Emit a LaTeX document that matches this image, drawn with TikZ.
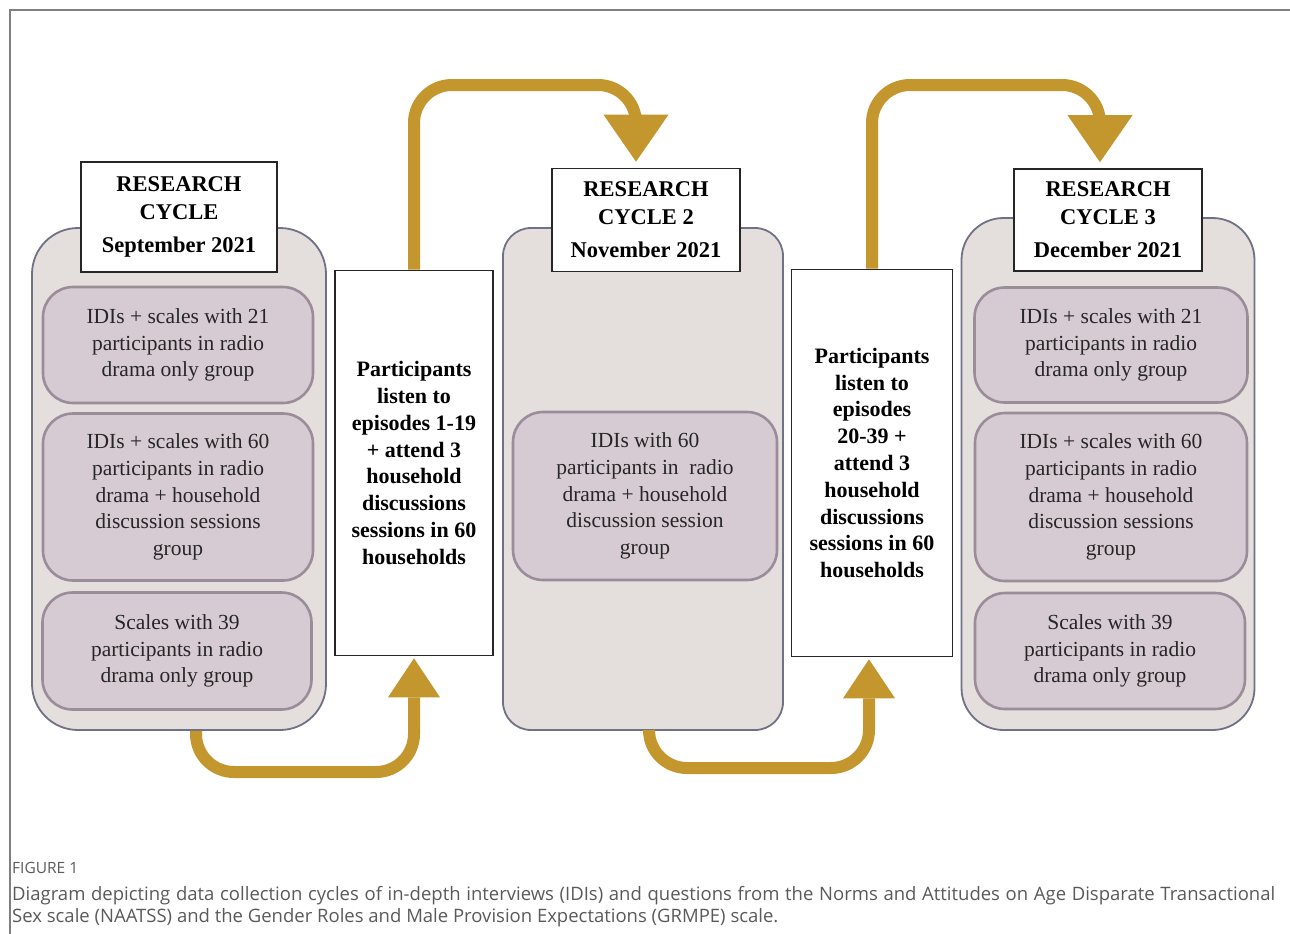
\documentclass[tikz,border=0pt]{standalone}
\usepackage{fontspec}
\setmainfont{Liberation Serif}
\newfontfamily\capfont{Open Sans}
\usetikzlibrary{arrows.meta}

\definecolor{gold}{RGB}{196,150,46}
\definecolor{panelfill}{RGB}{228,223,221}
\definecolor{paneldraw}{RGB}{112,112,134}
\definecolor{groupfill}{RGB}{214,203,211}
\definecolor{groupdraw}{RGB}{155,140,154}
\definecolor{capgray}{RGB}{90,90,90}

\begin{document}
\begin{tikzpicture}[x=1pt,y=-1pt,
    panel/.style={draw=paneldraw, line width=1.8pt, fill=panelfill, inner sep=0pt},
    group/.style={draw=groupdraw, line width=2.6pt, fill=groupfill, rounded corners=30pt,
        align=center, text=black!85, inner sep=0pt, font=\fontsize{21.5}{26.8}\selectfont},
    cyclehead/.style={draw=black!85, line width=1.6pt, fill=white, align=center, inner sep=0pt,
        font=\bfseries\fontsize{22.5}{28}\selectfont},
    listenbox/.style={draw=black!85, line width=1.6pt, fill=white, align=center, inner sep=0pt,
        font=\bfseries\fontsize{22}{26.8}\selectfont},
    flow/.style={draw=gold, line width=12pt, rounded corners=38pt},
    bighead/.style={-{Triangle[width=65pt,length=47pt,line width=0pt]}},
    smallhead/.style={-{Triangle[width=52pt,length=39pt,line width=0pt]}}]
    \useasboundingbox (0,0) rectangle (1290,934);
    % frame
    \draw[gray, line width=1.2pt] (10,934) -- (10,10) -- (1290,10);

    % research cycle 1
    \node[panel, rounded corners=46pt, minimum width=294pt, minimum height=502pt] (cyc1) at (179,479) {};
    \node[group, minimum width=270pt, minimum height=116pt] (cyc1a) at (178,345)
        {IDIs + scales with 21\\participants in radio\\drama only group};
    \node[group, minimum width=270pt, minimum height=167pt] (cyc1b) at (178,497)
        {IDIs + scales with 60\\participants in radio\\drama + household\\discussion sessions\\group};
    \node[group, minimum width=269pt, minimum height=117pt] (cyc1c) at (177,651)
        {Scales with 39\\participants in radio\\drama only group};
    \node[cyclehead, minimum width=196pt, minimum height=110pt] (head1) at (179,217)
        {RESEARCH\\CYCLE\\[5pt]September 2021};

    % listening period 1
    \node[listenbox, minimum width=158pt, minimum height=385pt] (listen1) at (414,463)
        {Participants\\listen to\\episodes 1-19\\+ attend 3\\household\\discussions\\sessions in 60\\households};

    % research cycle 2
    \node[panel, rounded corners=28pt, minimum width=280pt, minimum height=502pt] (cyc2) at (643,479) {};
    \node[group, minimum width=264pt, minimum height=168pt] (cyc2a) at (645,496)
        {IDIs with 60\\participants in~ radio\\drama + household\\discussion session\\group};
    \node[cyclehead, minimum width=188pt, minimum height=103pt] (head2) at (646,220)
        {RESEARCH\\CYCLE 2\\[5pt]November 2021};

    % listening period 2
    \node[listenbox, minimum width=161pt, minimum height=387pt] (listen2) at (872,463)
        {Participants\\listen to\\episodes\\20-39 +\\attend 3\\household\\discussions\\sessions in 60\\households};

    % research cycle 3
    \node[panel, rounded corners=42pt, minimum width=293pt, minimum height=512pt] (cyc3) at (1108,474) {};
    \node[group, minimum width=273pt, minimum height=115pt] (cyc3a) at (1111,345)
        {IDIs + scales with 21\\participants in radio\\drama only group};
    \node[group, minimum width=272pt, minimum height=168pt] (cyc3b) at (1111,497)
        {IDIs + scales with 60\\participants in radio\\drama + household\\discussion sessions\\group};
    \node[group, minimum width=270pt, minimum height=116pt] (cyc3c) at (1110,651)
        {Scales with 39\\participants in radio\\drama only group};
    \node[cyclehead, minimum width=188pt, minimum height=102pt] (head3) at (1108,220)
        {RESEARCH\\CYCLE 3\\[5pt]December 2021};

    % arrows between cycles
    \coordinate (high1) at (520,85);
    \coordinate (high2) at (990,85);
    \coordinate (low1) at (300,772);
    \coordinate (low2) at (750,768);
    \draw[flow, bighead] (listen1.north) |- (high1) -| ([xshift=-10pt,yshift=6pt]head2.north);
    \draw[flow, bighead] (listen2.north) |- (high2) -| ([xshift=-8pt,yshift=6pt]head3.north);
    \draw[flow, smallhead] ([xshift=17pt]cyc1.south) |- (low1) -| ([yshift=-2pt]listen1.south);
    \draw[flow, smallhead] ([xshift=6pt]cyc2.south) |- (low2) -| ([yshift=-2pt,xshift=-3pt]listen2.south);

    % caption
    \node[anchor=north west, inner sep=0pt, text=capgray, font=\capfont\fontsize{15.5}{17}\selectfont]
        (figlabel) at (12,862) {FIGURE 1};
    \node[anchor=north west, inner sep=0pt, text=capgray, text width=1263pt, align=justify,
        font=\capfont\fontsize{18.5}{22}\selectfont] (caption) at (12,886)
        {Diagram depicting data collection cycles of in-depth interviews (IDIs) and questions from the Norms and Attitudes on Age Disparate Transactional\linebreak Sex scale (NAATSS) and the Gender Roles and Male Provision Expectations (GRMPE) scale.};
\end{tikzpicture}
\end{document}
